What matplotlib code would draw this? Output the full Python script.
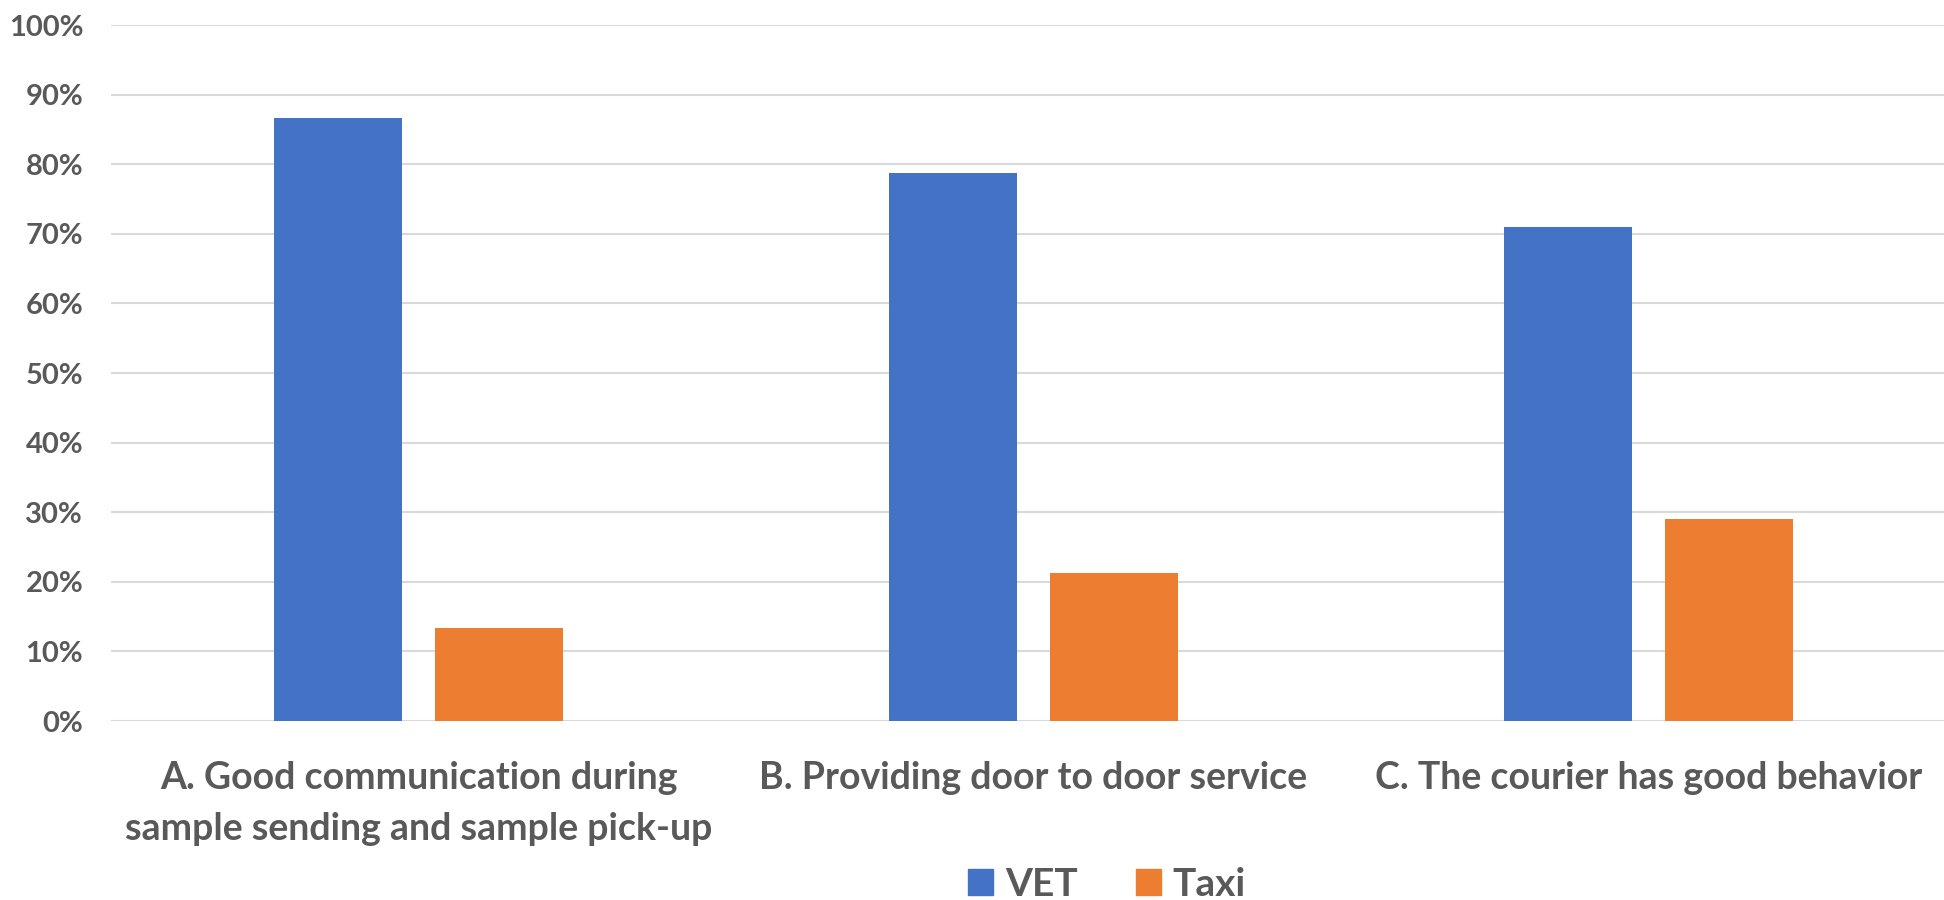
import numpy as np
import matplotlib.pyplot as plt
from matplotlib.patches import Patch

# survey results: share of respondents choosing each courier option
categories = [
    "A. Good communication during\nsample sending and sample pick-up",
    "B. Providing door to door service",
    "C. The courier has good behavior",
]
vet_share = [86.7, 78.8, 71.0]
taxi_share = [13.3, 21.2, 29.0]
series_names = ["VET", "Taxi"]

BLUE = "#4472C4"
ORANGE = "#ED7D31"
TEXT = "#595959"
GRID = "#D9D9D9"

plt.rcParams["font.family"] = ["Lato", "DejaVu Sans"]
plt.rcParams["font.weight"] = "bold"

fig = plt.figure(figsize=(19.44, 9), dpi=100)
# plot area runs a little past the right edge of the canvas
ax = fig.add_axes([111 / 1944, 179 / 900, 1845 / 1944, 696 / 900])

x = np.arange(len(categories))
width = 0.208
offset = 0.131
ax.bar(x - offset, vet_share, width, color=BLUE, zorder=3)
ax.bar(x + offset, taxi_share, width, color=ORANGE, zorder=3)

ax.set_xlim(-0.5, len(categories) - 0.5)
ax.set_ylim(0, 100)
ax.set_yticks(np.arange(0, 101, 10))
ax.set_yticklabels([f"{v}%" for v in range(0, 101, 10)])
ax.yaxis.grid(True, color=GRID, linewidth=1.5, zorder=0)
ax.set_axisbelow(True)

ax.set_xticks(x)
ax.set_xticklabels(categories, linespacing=1.58)
ax.tick_params(axis="x", length=0, pad=29, labelsize=27, labelcolor=TEXT)
ax.tick_params(axis="y", length=0, pad=20, labelsize=21, labelcolor=TEXT)
for lab in ax.get_xticklabels() + ax.get_yticklabels():
    lab.set_fontweight("bold")

for side in ["top", "right", "left", "bottom"]:
    ax.spines[side].set_visible(False)

handles = [Patch(color=BLUE), Patch(color=ORANGE)]
leg = fig.legend(handles, series_names, loc="center",
                 bbox_to_anchor=(1107 / 1944, 16 / 900), ncol=2, frameon=False,
                 prop={"size": 28, "weight": "bold"},
                 handlelength=0.65, handleheight=0.65, handletextpad=0.3,
                 columnspacing=1.5)
for t in leg.get_texts():
    t.set_color(TEXT)

fig.savefig("out.png", dpi=100, facecolor="white")
